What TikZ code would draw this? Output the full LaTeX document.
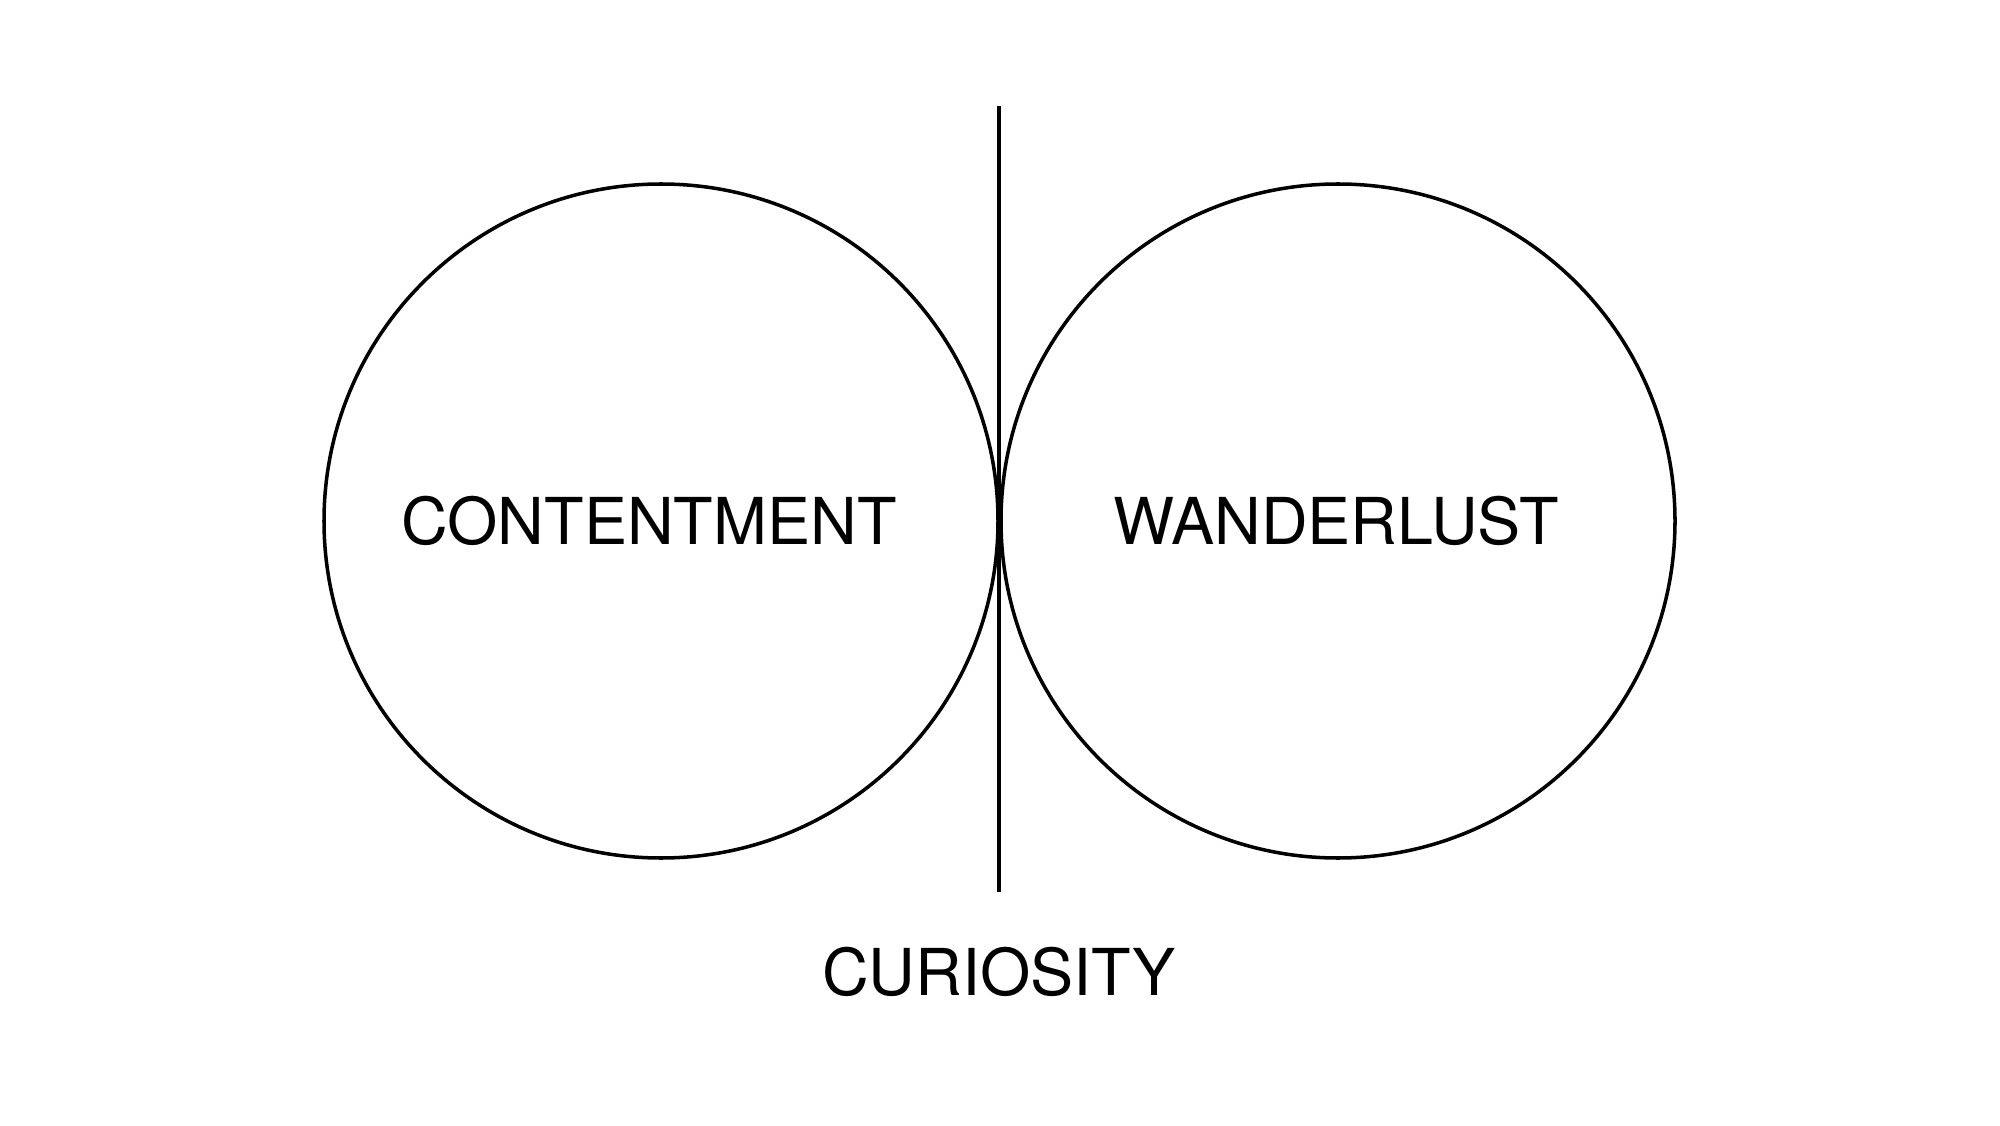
\documentclass[tikz,border=0pt]{standalone}
\usepackage{fontspec}
\setmainfont{TeX Gyre Heros}
\usepackage{xcolor}
\definecolor{ringdraw}{rgb}{0.00,0.00,0.00}
\definecolor{worddraw}{rgb}{0.00,0.00,0.00}
\usepackage{tikz}
\usetikzlibrary{positioning}

\begin{document}
\begin{tikzpicture}[
  every node/.style={align=center, inner sep=0pt},
  ring/.style   ={circle, draw=ringdraw, line width=1pt, minimum size=67.4mm},
  word/.style   ={text=worddraw, font=\fontsize{18.4}{22}\selectfont},
  divider/.style={line width=1pt, draw=ringdraw}
]
\useasboundingbox (0,0) rectangle (20,11.25);

\node[ring] (cont) at ( 6.61, 6.04) {};
\node[ring] (wand) at (13.38, 6.04) {};

\node[word] (contlbl) at ([xshift=-1.2mm, yshift=0mm]cont.center) {CONTENTMENT};
\node[word] (wandlbl) at ([xshift=-0.2mm, yshift=0mm]wand.center) {WANDERLUST};

\coordinate (top) at (9.99, 10.19);
\coordinate (bot) at (9.99,  2.33);
\draw[divider] (top) -- (bot);

\node[word, below=5.4mm of bot] (curlbl) {CURIOSITY};

\end{tikzpicture}
\end{document}
